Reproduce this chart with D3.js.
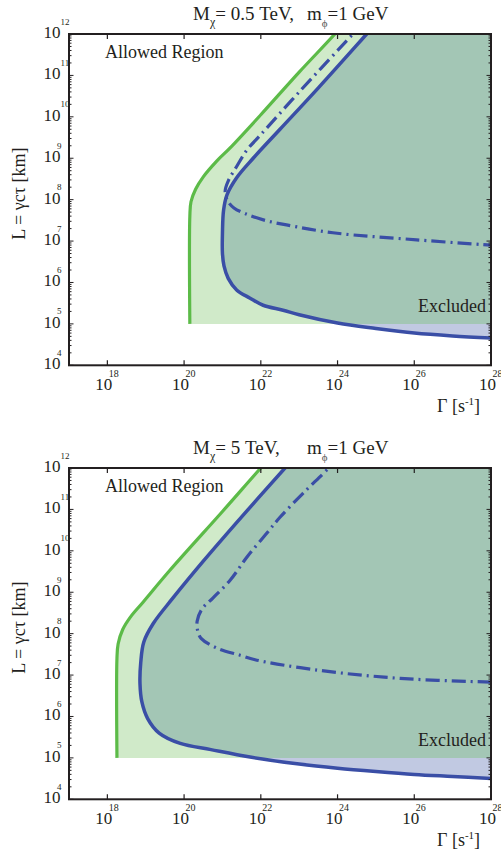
<!DOCTYPE html>
<html><head><meta charset="utf-8">
<script src="https://cdn.jsdelivr.net/npm/d3@7"></script>
<style>
body{margin:0;background:#fff}
svg{display:block}
text{font-family:"Liberation Serif","DejaVu Serif",serif;fill:#231f20}
</style>
</head><body>
<svg id="chart" width="501" height="857"></svg>
<script>
// ---------- data (log10 Γ [s^-1], log10 L [km]) ----------
const gammaDomain = [1e17, 1e28];
const lengthDomain = [1e4, 1e12];
const xTickExps = [18, 20, 22, 24, 26, 28];
const yTickExps = [4, 5, 6, 7, 8, 9, 10, 11, 12];
const lowerCutExp = 5;

// Panel 1: M_chi = 0.5 TeV
const green1 = [[20.15,5],[20.15,7.6],[20.18,7.95],[20.3,8.25],[20.5,8.55],[20.85,8.93],[21.2,9.25],[22,10.05],[23,11.08],[23.93,12],[24.2,12.3]];
const blue1  = [[25.05,12.3],[24.76,12],[23.5,10.7],[22.5,9.7],[21.8,9.0],[21.37,8.53],[21.12,8.12],[21.03,7.75],[21.0,7.2],[21.0,6.7],[21.04,6.4],[21.15,6.1],[21.37,5.82],[21.72,5.62],[22.06,5.45],[22.58,5.33],[23,5.22],[24,5.02],[25,4.89],[26,4.78],[27,4.71],[28,4.66]];
const dash1  = [[24.7,12.3],[24.4,12],[23,10.6],[22,9.57],[21.64,9.2],[21.37,8.8],[21.15,8.45],[21.07,8.2],[21.15,7.95],[21.3,7.8],[21.6,7.66],[22.15,7.49],[22.67,7.39],[23.88,7.2],[26.06,7.03],[28,6.9]];

// Panel 2: M_chi = 5 TeV
const green2 = [[18.25,5],[18.25,7.4],[18.28,7.75],[18.4,8.1],[18.6,8.4],[18.93,8.76],[19.63,9.53],[21,10.95],[22,12],[22.3,12.3]];
const blue2  = [[22.92,12.3],[22.63,12],[21.5,10.82],[20.5,9.75],[19.7,8.85],[19.2,8.25],[18.95,7.8],[18.87,7.3],[18.85,6.8],[18.9,6.35],[19.05,5.95],[19.35,5.6],[19.9,5.35],[20.7,5.2],[21.72,5.02],[23,4.85],[24,4.75],[25,4.67],[26,4.6],[27,4.55],[28,4.5]];
const dash2  = [[24.05,12.3],[23.77,12],[23.1,11.39],[22.5,10.81],[22.16,10.43],[21.64,9.85],[21.2,9.29],[20.75,8.86],[20.47,8.6],[20.34,8.3],[20.36,8.05],[20.45,7.88],[20.86,7.65],[21.46,7.48],[21.85,7.37],[23.47,7.12],[25.63,6.92],[28,6.83]];

const titleMass = ["0.5 TeV,", "5 TeV,"];
const titleMediator = "1 GeV";

// ---------- drawing ----------
const svg = d3.select("#chart");
const defs = svg.append("defs");
const C = {green:"#5cbb48", blue:"#3a4ea6", lightGreen:"#d0eac9", teal:"#a3c6b5", lavender:"#c1c9e2"};
const X0 = 69, X1 = 491, H = 331.3;

function drawPanel(idx, top, green, blue, dash, mass) {
  const bottom = top + H;
  const x = d3.scaleLog().domain(gammaDomain).range([X0, X1]);
  const y = d3.scaleLog().domain(lengthDomain).range([bottom, top]);
  const px = d => x(Math.pow(10, d[0])), py = d => y(Math.pow(10, d[1]));
  const line = d3.line().x(px).y(py).curve(d3.curveCatmullRom.alpha(0.5));
  const yCut = y(Math.pow(10, lowerCutExp));

  const mk = (id, x0, y0, w, h) => defs.append("clipPath").attr("id", id)
      .append("rect").attr("x", x0).attr("y", y0).attr("width", w).attr("height", h);
  mk("plot"+idx, X0, top, X1-X0, H);
  mk("above"+idx, X0, top, X1-X0, yCut-top);
  mk("below"+idx, X0, yCut, X1-X0, bottom-yCut);

  const g = svg.append("g");
  const xr = x(1e28) + 5, yt = y(1e12) - 20;

  // fills
  g.append("path").attr("clip-path", `url(#plot${idx})`)
    .attr("d", line(green) + `L${xr},${yt}L${xr},${yCut}Z`).attr("fill", C.lightGreen);
  const blueArea = line(blue) + `L${xr},${yt}Z`;
  g.append("path").attr("clip-path", `url(#above${idx})`).attr("d", blueArea).attr("fill", C.teal);
  g.append("path").attr("clip-path", `url(#below${idx})`).attr("d", blueArea).attr("fill", C.lavender);

  // lines
  const lg = g.append("g").attr("clip-path", `url(#plot${idx})`).attr("fill", "none");
  lg.append("path").attr("d", line(green)).attr("stroke", C.green).attr("stroke-width", 3.2);
  lg.append("path").attr("d", line(blue)).attr("stroke", C.blue).attr("stroke-width", 3.5);
  lg.append("path").attr("d", line(dash)).attr("stroke", C.blue).attr("stroke-width", 3.2)
    .attr("stroke-dasharray", "14,5,2,5");

  // frame & ticks
  const ax = g.append("g").attr("stroke", "#231f20");
  ax.append("rect").attr("x", X0).attr("y", top).attr("width", X1-X0).attr("height", H)
    .attr("fill", "none").attr("stroke-width", 2);
  xTickExps.forEach(e => {
    const xx = x(Math.pow(10, e));
    ax.append("line").attr("x1", xx).attr("x2", xx).attr("y1", bottom).attr("y2", bottom-5).attr("stroke-width", 1.2);
    ax.append("line").attr("x1", xx).attr("x2", xx).attr("y1", top).attr("y2", top+5).attr("stroke-width", 1.2);
  });
  for (let e = 4; e < 12; e++) {
    for (let k = 1; k < 10; k++) {
      const yy = y(k * Math.pow(10, e));
      const len = k === 1 ? 4.5 : 2.5;
      ax.append("line").attr("x1", X0).attr("x2", X0+len).attr("y1", yy).attr("y2", yy).attr("stroke-width", 1);
      ax.append("line").attr("x1", X1).attr("x2", X1-len).attr("y1", yy).attr("y2", yy).attr("stroke-width", 1);
    }
  }

  // tick labels
  xTickExps.forEach(e => {
    const xx = x(Math.pow(10, e));
    g.append("text").attr("x", xx+5).attr("y", bottom+24.5).attr("text-anchor", "end")
      .attr("font-size", 17).text("10");
    g.append("text").attr("x", xx+1.5).attr("y", bottom+12).attr("font-size", 10).text(e);
  });
  yTickExps.forEach(e => {
    const yy = y(Math.pow(10, e));
    g.append("text").attr("x", 60.5).attr("y", yy+4).attr("text-anchor", "end")
      .attr("font-size", 17).text("10");
    g.append("text").attr("x", e >= 10 ? 60.5 : 57).attr("y", yy-9.5).attr("font-size", 9).text(e);
  });

  // axis titles
  g.append("text").attr("transform", `translate(25,${top+H/2-6}) rotate(-90)`)
    .attr("text-anchor", "middle").attr("font-size", 18).text("L = γcτ [km]");
  const xl = g.append("text").attr("x", 437).attr("y", bottom+46.5).attr("font-size", 18);
  xl.append("tspan").text("Γ [s");
  xl.append("tspan").attr("font-size", 11).attr("dy", -7).text("-1");
  xl.append("tspan").attr("dy", 7).text("]");

  // annotations
  g.append("text").attr("x", 105).attr("y", top+24).attr("font-size", 18).text("Allowed Region");
  g.append("text").attr("x", 486).attr("y", top+277.5).attr("text-anchor", "end")
    .attr("font-size", 18).text("Excluded");

  // title
  const t1 = g.append("text").attr("x", 193).attr("y", top-14).attr("font-size", 19);
  t1.append("tspan").text("M");
  t1.append("tspan").attr("font-size", 12).attr("dy", 6).text("χ");
  t1.append("tspan").attr("dy", -6).text("= " + mass);
  const t2 = g.append("text").attr("x", 307).attr("y", top-14).attr("font-size", 19);
  t2.append("tspan").text("m");
  t2.append("tspan").attr("font-size", 11).attr("dy", 7).attr("fill", "#555").text("ϕ");
  t2.append("tspan").attr("dy", -7).text("=" + titleMediator);
}

drawPanel(1, 34, green1, blue1, dash1, titleMass[0]);
drawPanel(2, 468, green2, blue2, dash2, titleMass[1]);
</script>
</body></html>
